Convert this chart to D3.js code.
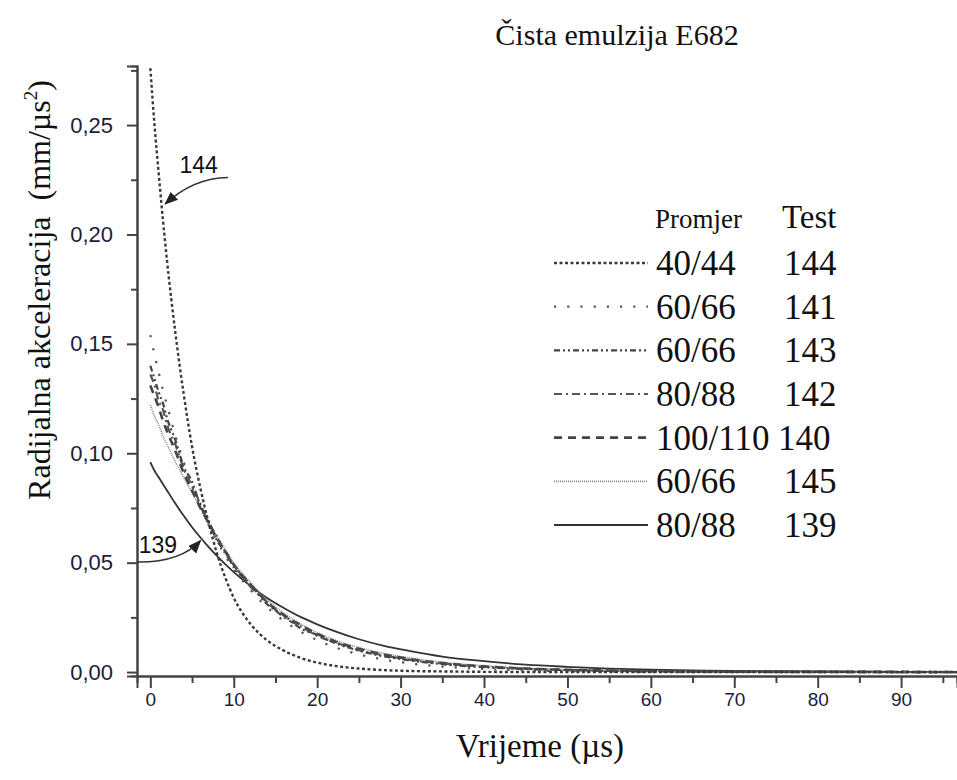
<!DOCTYPE html>
<html>
<head>
<meta charset="utf-8">
<script src="https://cdn.jsdelivr.net/npm/d3@7"></script>
<style>
    body { margin: 0; background: #fff; }
    .tick text { font-family: "Liberation Sans", Arial, sans-serif; fill: #1c1c3c; }
    .serif { font-family: "Liberation Serif", "Times New Roman", serif; fill: #111; }
</style>
</head>
<body>
<div id="chart"></div>
<script>

//--------------------------------------------------------------------------
//
// data
//

var times = [0, 0.5, 1, 1.5, 2, 3, 4, 5, 6, 7, 8, 9, 10, 12, 14, 16, 18, 20, 22, 25,
             28, 31, 35, 40, 45, 50, 55, 60, 65, 70, 75, 80, 85, 90, 95, 100];

var test144 = [0.276, 0.250, 0.228, 0.207, 0.188, 0.155, 0.127, 0.103, 0.084, 0.068, 0.054, 0.043, 0.034, 0.022, 0.0145, 0.0098, 0.0065, 0.0043, 0.0029, 0.0016,
               0.0009, 0.0005, 0.0003, 0.0001, 0, 0, 0, 0, 0, 0, 0, 0, 0, 0, 0, 0];
var test141 = [0.154, 0.145, 0.137, 0.129, 0.122, 0.108, 0.096, 0.085, 0.076, 0.067, 0.060, 0.053, 0.047, 0.0375, 0.0296, 0.0234, 0.0185, 0.0146, 0.0115, 0.0081,
               0.0057, 0.0040, 0.0025, 0.0014, 0.0008, 0.0004, 0.0002, 0.0001, 0, 0, 0, 0, 0, 0, 0, 0];
var test143 = [0.140, 0.134, 0.128, 0.123, 0.116, 0.106, 0.094, 0.087, 0.076, 0.069, 0.060, 0.055, 0.048, 0.040, 0.031, 0.026, 0.020, 0.017, 0.0135, 0.0098,
               0.0072, 0.0054, 0.0036, 0.0022, 0.0014, 0.0009, 0.0005, 0.0003, 0.0002, 0.0001, 0.0001, 0.0001, 0, 0, 0, 0];
var test142 = [0.136, 0.131, 0.124, 0.120, 0.113, 0.104, 0.093, 0.085, 0.077, 0.068, 0.062, 0.054, 0.049, 0.039, 0.032, 0.025, 0.021, 0.0165, 0.0138, 0.0100,
               0.0076, 0.0057, 0.0039, 0.0024, 0.0015, 0.0010, 0.0006, 0.0004, 0.0002, 0.0002, 0.0001, 0.0001, 0.0001, 0, 0, 0];
var test140 = [0.131, 0.126, 0.121, 0.115, 0.110, 0.101, 0.091, 0.083, 0.075, 0.068, 0.061, 0.055, 0.049, 0.040, 0.032, 0.026, 0.0215, 0.0175, 0.0142, 0.0106,
               0.0080, 0.0060, 0.0041, 0.0026, 0.0016, 0.0010, 0.0007, 0.0004, 0.0003, 0.0002, 0.0001, 0.0001, 0.0001, 0.0001, 0, 0];
var test145 = [0.122, 0.117, 0.113, 0.108, 0.104, 0.096, 0.089, 0.082, 0.075, 0.068, 0.062, 0.056, 0.050, 0.041, 0.033, 0.027, 0.022, 0.018, 0.0148, 0.0112,
               0.0085, 0.0065, 0.0045, 0.0029, 0.0018, 0.0011, 0.0007, 0.0004, 0.0003, 0.0002, 0.0001, 0.0001, 0.0001, 0, 0, 0];
var test139 = [0.096, 0.092, 0.089, 0.086, 0.083, 0.077, 0.0714, 0.0662, 0.0615, 0.0571, 0.0530, 0.0492, 0.0457, 0.0394, 0.0339, 0.0293, 0.0252, 0.0218, 0.0188, 0.0150,
               0.0120, 0.0097, 0.0071, 0.0050, 0.0034, 0.0024, 0.0016, 0.0011, 0.0008, 0.0005, 0.0004, 0.0003, 0.0002, 0.0001, 0.0001, 0.0001];

var promjer = ["40/44", "60/66", "60/66", "80/88", "100/110", "60/66", "80/88"];
var testNames = ["144", "141", "143", "142", "140", "145", "139"];
var seriesValues = [test144, test141, test143, test142, test140, test145, test139];

var xTicks = [0, 10, 20, 30, 40, 50, 60, 70, 80, 90];
var yTicks = [0, 0.05, 0.10, 0.15, 0.20, 0.25];

var title = "Čista emulzija E682";
var xTitle = "Vrijeme (µs)";
var yTitle = "Radijalna akceleracija\u00a0\u00a0(mm/µs";

//--------------------------------------------------------------------------
//
// chart geometry
//

var outerWidth = 957,
    outerHeight = 780;

// line styles, one per series (same order as testNames)
var styles = [
    {dash: "3,2.5", width: 2.4, color: "#3a3a3a"},
    {dash: "2.2,11", width: 2.2, color: "#555"},
    {dash: "6,3,2,3,2,3", width: 2.2, color: "#444"},
    {dash: "8,4,2,4", width: 2.2, color: "#555"},
    {dash: "8,6", width: 2.6, color: "#444"},
    {dash: "1,1", width: 1.6, color: "#888"},
    {dash: null, width: 1.8, color: "#333"}
];

var x = d3.scaleLinear().domain([-1.6, 96.7]).range([137, 957]);
var y = d3.scaleLinear().domain([-0.0018, 0.277]).range([676, 66]);

var svg = d3.select("#chart").append("svg")
    .attr("width", outerWidth)
    .attr("height", outerHeight);

svg.append("clipPath")
    .attr("id", "plot-area")
    .append("rect")
    .attr("x", x.range()[0])
    .attr("y", y.range()[1] - 2)
    .attr("width", x.range()[1] - x.range()[0])
    .attr("height", y.range()[0] - y.range()[1] + 2);

//--------------------------------------------------------------------------
//
// axes
//

var xAxis = d3.axisBottom(x)
    .tickValues(xTicks)
    .tickSize(12)
    .tickPadding(5)
    .tickFormat(d3.format("d"));

var xMinor = d3.axisBottom(x)
    .tickValues(d3.range(5, 100, 10))
    .tickSize(7)
    .tickFormat("");

var yAxis = d3.axisLeft(y)
    .tickValues(yTicks)
    .tickSize(10)
    .tickPadding(14)
    .tickFormat(function (d) { return d3.format(".2f")(d).replace(".", ","); });

var yMinor = d3.axisLeft(y)
    .tickValues([0.025, 0.075, 0.125, 0.175, 0.225, 0.275])
    .tickSize(6)
    .tickFormat("");

function styleAxis(g) {
    g.select(".domain").attr("stroke", "#444").attr("stroke-width", 2);
    g.selectAll(".tick line").attr("stroke", "#444").attr("stroke-width", 2);
    g.selectAll(".tick text").attr("font-size", 19);
}

svg.append("g")
    .attr("transform", "translate(0," + y.range()[0] + ")")
    .call(xMinor)
    .call(styleAxis);
svg.append("g")
    .attr("transform", "translate(0," + y.range()[0] + ")")
    .call(xAxis)
    .call(styleAxis);
svg.append("g")
    .attr("transform", "translate(" + x.range()[0] + ",0)")
    .call(yMinor)
    .call(styleAxis);
svg.append("g")
    .attr("transform", "translate(" + x.range()[0] + ",0)")
    .call(yAxis)
    .call(styleAxis)
    .selectAll(".tick text")
    .attr("font-size", 22);

//--------------------------------------------------------------------------
//
// curves
//

var line = d3.line()
    .x(function (d) { return x(d[0]); })
    .y(function (d) { return y(d[1]); })
    .curve(d3.curveMonotoneX);

var plot = svg.append("g").attr("clip-path", "url(#plot-area)");

// draw solid first so the dotted ones sit on top
d3.range(seriesValues.length).reverse().forEach(function (i) {
    var pts = times.map(function (t, j) { return [t, seriesValues[i][j]]; });
    plot.append("path")
        .attr("d", line(pts))
        .attr("fill", "none")
        .attr("stroke", styles[i].color)
        .attr("stroke-width", styles[i].width)
        .attr("stroke-dasharray", styles[i].dash);
});

//--------------------------------------------------------------------------
//
// annotations
//

svg.append("defs").append("marker")
    .attr("id", "arrow")
    .attr("viewBox", "0 0 10 10")
    .attr("refX", 9)
    .attr("refY", 5)
    .attr("markerWidth", 9)
    .attr("markerHeight", 9)
    .attr("orient", "auto")
    .append("path")
    .attr("d", "M0,1 L10,5 L0,9 Z")
    .attr("fill", "#222");

var notes = [
    {label: "144", text: [3.5, 0.228], from: [9.3, 0.226], ctrl: [5.2, 0.2258], to: [1.8, 0.214]},
    {label: "139", text: [-1.4, 0.0544], from: [-1.6, 0.0503], ctrl: [3.6, 0.0500], to: [6.0, 0.0600]}
];

notes.forEach(function (n) {
    var p = d3.path();
    p.moveTo(x(n.from[0]), y(n.from[1]));
    p.quadraticCurveTo(x(n.ctrl[0]), y(n.ctrl[1]), x(n.to[0]), y(n.to[1]));
    svg.append("path")
        .attr("d", p.toString())
        .attr("fill", "none")
        .attr("stroke", "#333")
        .attr("stroke-width", 1.5)
        .attr("marker-end", "url(#arrow)");
    svg.append("text")
        .attr("x", x(n.text[0]))
        .attr("y", y(n.text[1]))
        .attr("font-family", "'Liberation Sans', Arial, sans-serif")
        .attr("font-size", 23)
        .attr("fill", "#111")
        .text(n.label);
});

//--------------------------------------------------------------------------
//
// titles
//

svg.append("text")
    .attr("class", "serif")
    .attr("x", 617)
    .attr("y", 45)
    .attr("text-anchor", "middle")
    .attr("font-size", 30)
    .text(title);

svg.append("text")
    .attr("class", "serif")
    .attr("x", 540)
    .attr("y", 757)
    .attr("text-anchor", "middle")
    .attr("font-size", 33)
    .text(xTitle);

var yt = svg.append("text")
    .attr("class", "serif")
    .attr("transform", "translate(50,290) rotate(-90)")
    .attr("text-anchor", "middle")
    .attr("font-size", 32);
yt.append("tspan").text(yTitle);
yt.append("tspan").attr("font-size", 19).attr("dy", -13).text("2");
yt.append("tspan").attr("dy", 13).text(")");

//--------------------------------------------------------------------------
//
// legend
//

var legend = svg.append("g").attr("class", "legend");
var rowY = d3.scaleLinear().domain([0, 6]).range([263, 525]);

legend.append("text")
    .attr("class", "serif")
    .attr("x", 655)
    .attr("y", 228)
    .attr("font-size", 27)
    .text("Promjer");
legend.append("text")
    .attr("class", "serif")
    .attr("x", 782)
    .attr("y", 228)
    .attr("font-size", 33)
    .text("Test");

testNames.forEach(function (name, i) {
    var row = legend.append("g").attr("transform", "translate(0," + rowY(i) + ")");
    row.append("line")
        .attr("x1", 554)
        .attr("x2", 648)
        .attr("stroke", styles[i].color)
        .attr("stroke-width", styles[i].width)
        .attr("stroke-dasharray", styles[i].dash);
    row.append("text")
        .attr("class", "serif")
        .attr("x", 656)
        .attr("y", 12)
        .attr("font-size", 35)
        .text(promjer[i]);
    row.append("text")
        .attr("class", "serif")
        .attr("x", i === 4 ? 778 : 784)
        .attr("y", 12)
        .attr("font-size", 35)
        .text(name);
});

</script>
</body>
</html>
